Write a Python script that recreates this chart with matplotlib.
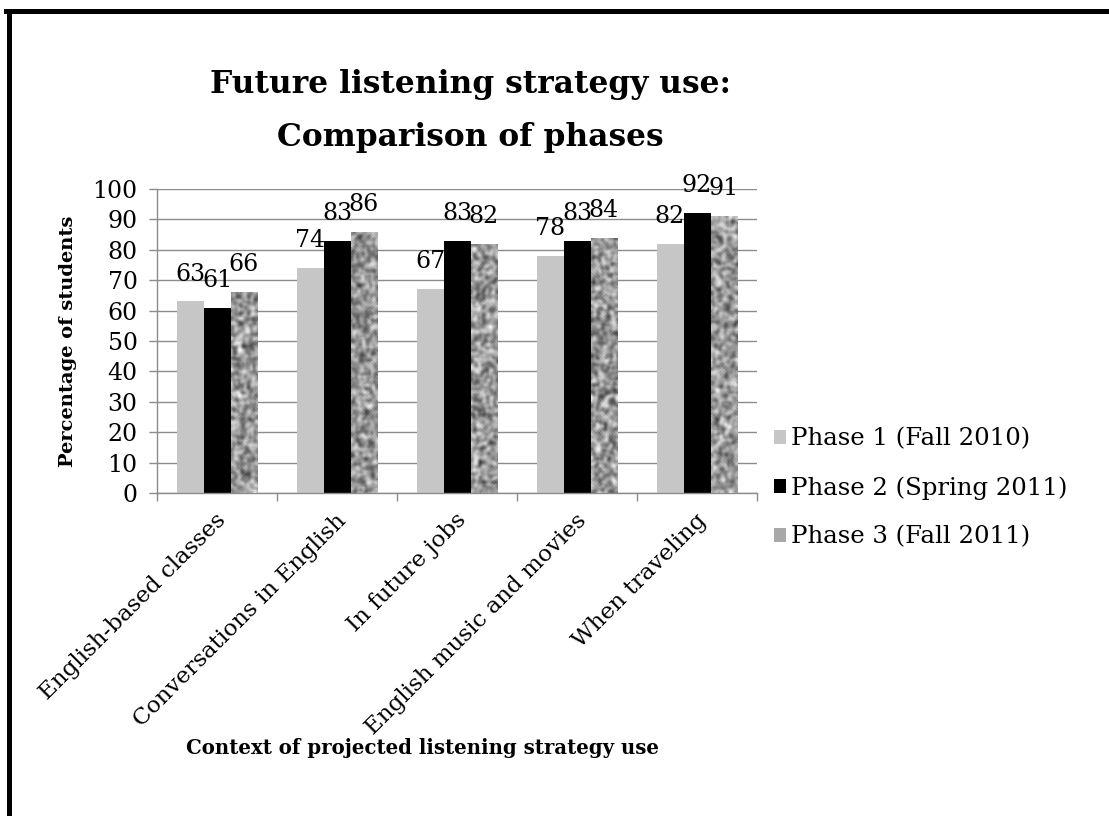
import numpy as np
import matplotlib
matplotlib.use("Agg")
import matplotlib.pyplot as plt
import matplotlib.transforms as mtransforms
from matplotlib.patches import Patch
from matplotlib.lines import Line2D

# ---- data ----
categories = ["English-based classes", "Conversations in English", "In future jobs",
              "English music and movies", "When traveling"]
phase1 = [63, 74, 67, 78, 82]
phase2 = [61, 83, 83, 83, 92]
phase3 = [66, 86, 82, 84, 91]
series_names = ["Phase 1 (Fall 2010)", "Phase 2 (Spring 2011)", "Phase 3 (Fall 2011)"]
y_ticks = list(range(0, 101, 10))
title_lines = ["Future listening strategy use:", "Comparison of phases"]
y_label = "Percentage of students"
x_label = "Context of projected listening strategy use"

plt.rcParams["font.family"] = ["DejaVu Serif"]

W, H = 1109, 816
fig = plt.figure(figsize=(W / 100, H / 100), dpi=100)
ax = fig.add_axes([157 / W, 1 - 493 / H, 600 / W, 304 / H])

x = np.arange(len(categories))
w = 0.225
grid_c = "#8c8c8c"
c1, c2, c3 = "#c6c6c6", "black", "#a4a4a4"
b1 = ax.bar(x - w, phase1, w, color=c1, zorder=2)
b2 = ax.bar(x, phase2, w, color=c2, zorder=2)
b3 = ax.bar(x + w, phase3, w, color=c3, zorder=2)

# noise texture for phase 3 bars (styling only)
rng = np.random.default_rng(11)
def blur(a, k=2):
    out = a.copy()
    for _ in range(k):
        out = (out + np.roll(out, 1, 0) + np.roll(out, -1, 0) + np.roll(out, 1, 1) + np.roll(out, -1, 1)) / 5
    return out
for rect in b3:
    x0, wd, h = rect.get_x(), rect.get_width(), rect.get_height()
    nr, nc = int(h * 3.04 / 1.6), 18
    tex = blur(rng.random((nr, nc)), 2)
    tex = (tex - tex.min()) / (tex.max() - tex.min())
    im = ax.imshow(tex, cmap="gray", vmin=-0.35, vmax=1.05, extent=[x0, x0 + wd, 0, h],
                   interpolation="bilinear", aspect="auto", zorder=3)
    im.set_clip_path(rect)

# data labels
for bars, vals in ((b1, phase1), (b2, phase2), (b3, phase3)):
    for rect, v in zip(bars, vals):
        ax.annotate(str(v), (rect.get_x() + rect.get_width() / 2, v), xytext=(0, 11.5),
                    textcoords="offset points", ha="center", va="bottom", fontsize=17, zorder=5)

ax.set_xlim(-0.5, len(categories) - 0.5)
ax.set_ylim(0, 100)
ax.set_yticks(y_ticks)
ax.set_yticklabels([str(t) for t in y_ticks], fontsize=17)
ax.yaxis.grid(True, color=grid_c, lw=1.0, zorder=0)
ax.set_axisbelow(True)
for s in ("top", "right"):
    ax.spines[s].set_visible(False)
for s in ("left", "bottom"):
    ax.spines[s].set_color(grid_c)
    ax.spines[s].set_linewidth(1.0)
ax.tick_params(axis="y", length=6, color=grid_c, width=1.0, pad=8)

ax.set_xticks(x)
ax.set_xticklabels(categories, rotation=45, ha="right", rotation_mode="anchor", fontsize=16.6)
ax.tick_params(axis="x", which="major", length=0, pad=11)
shift = mtransforms.ScaledTranslation(-2 / 100, -1 / 100, fig.dpi_scale_trans)
for lab in ax.get_xticklabels():
    lab.set_transform(lab.get_transform() + shift)
ax.set_xticks(np.arange(-0.5, len(categories), 1.0), minor=True)
ax.tick_params(axis="x", which="minor", length=6, color=grid_c, width=1.0)

ax.set_ylabel(y_label, fontsize=14, fontweight="bold")
ax.yaxis.set_label_coords((77 - 157) / 600, 0.5)
fig.text(423 / W, 1 - 748 / H, x_label, ha="center", va="center", fontsize=14.2, fontweight="bold")
fig.text(470 / W, 1 - 93 / H, title_lines[0], ha="center", va="baseline", fontsize=22.5,
         fontweight="bold")
fig.text(470 / W, 1 - 146 / H, title_lines[1], ha="center", va="baseline", fontsize=22.5,
         fontweight="bold")

handles = [Patch(facecolor=c1), Patch(facecolor=c2), Patch(facecolor="#a8a8a8")]
fig.legend(handles, series_names, loc="center left", bbox_to_anchor=(752 / W, 1 - 488 / H),
           frameon=False, fontsize=17.6, handlelength=0.5, handleheight=0.5,
           handletextpad=0.2, labelspacing=1.05)

# page frame (left and top)
fig.add_artist(Line2D([8.5 / W, 8.5 / W], [0, 1 - 10.5 / H], color="black", lw=3.6,
                      transform=fig.transFigure, solid_capstyle="projecting"))
fig.add_artist(Line2D([6 / W, 1], [1 - 10.5 / H, 1 - 10.5 / H], color="black", lw=3.6,
                      transform=fig.transFigure))

fig.savefig("out.png", dpi=100)
